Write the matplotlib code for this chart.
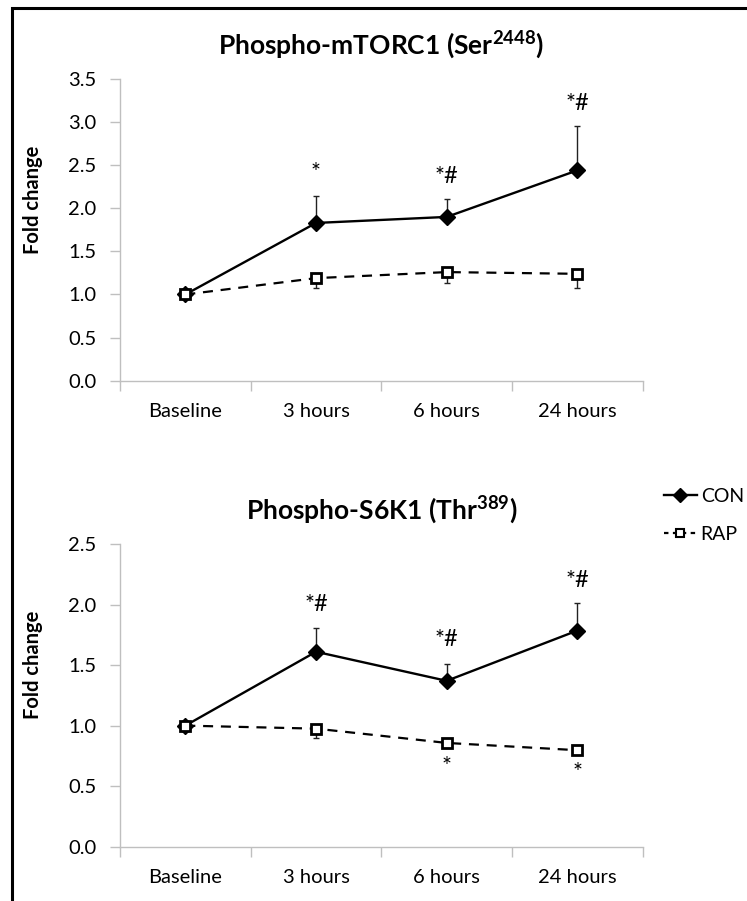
import numpy as np
import matplotlib
matplotlib.use("Agg")
import matplotlib.pyplot as plt
from matplotlib.lines import Line2D
from matplotlib.patches import Rectangle

plt.rcParams['font.family'] = ['Lato', 'DejaVu Sans']
plt.rcParams['mathtext.default'] = 'regular'

categories = ["Baseline", "3 hours", "6 hours", "24 hours"]

# panel 1: phospho-mTORC1
mtor_con = [1.0, 1.83, 1.90, 2.44]
mtor_con_err = [0.0, 0.31, 0.21, 0.51]
mtor_rap = [1.0, 1.19, 1.26, 1.24]
mtor_rap_err = [0.0, 0.11, 0.13, 0.16]
mtor_con_marks = ["", "*", "*#", "*#"]
mtor_con_mark_y = [0, 2.42, 2.37, 3.22]
mtor_rap_marks = ["", "", "", ""]
mtor_rap_mark_y = [0, 0, 0, 0]

# panel 2: phospho-S6K1
s6k_con = [1.0, 1.61, 1.37, 1.785]
s6k_con_err = [0.0, 0.20, 0.14, 0.225]
s6k_rap = [1.0, 0.975, 0.857, 0.797]
s6k_rap_err = [0.0, 0.075, 0.03, 0.03]
s6k_con_marks = ["", "*#", "*#", "*#"]
s6k_con_mark_y = [0, 2.00, 1.71, 2.20]
s6k_rap_marks = ["", "", "*", "*"]
s6k_rap_mark_y = [0, 0, 0.66, 0.61]

panels = [
    dict(title="Phospho-mTORC1 (Ser$^{2448}$)", con=mtor_con, con_err=mtor_con_err,
         rap=mtor_rap, rap_err=mtor_rap_err, ymax=3.5,
         con_marks=mtor_con_marks, con_mark_y=mtor_con_mark_y,
         rap_marks=mtor_rap_marks, rap_mark_y=mtor_rap_mark_y),
    dict(title="Phospho-S6K1 (Thr$^{389}$)", con=s6k_con, con_err=s6k_con_err,
         rap=s6k_rap, rap_err=s6k_rap_err, ymax=2.5,
         con_marks=s6k_con_marks, con_mark_y=s6k_con_mark_y,
         rap_marks=s6k_rap_marks, rap_mark_y=s6k_rap_mark_y),
]

W, H = 747, 901
fig = plt.figure(figsize=(W / 100, H / 100), dpi=100)
axes_px = [(120, 79, 642.7, 380.7), (120, 544, 642.7, 846.7)]
grey = "#bfbfbf"

for p, (x0, y0, x1, y1) in zip(panels, axes_px):
    ax = fig.add_axes([x0 / W, 1 - y1 / H, (x1 - x0) / W, (y1 - y0) / H])
    xs = np.arange(len(categories))
    zeros = np.zeros(len(xs))
    ax.errorbar(xs, p["con"], yerr=[zeros, p["con_err"]], fmt="none",
                ecolor="#222222", elinewidth=1, capsize=2.5, capthick=1, zorder=2)
    ax.errorbar(xs, p["rap"], yerr=[p["rap_err"], zeros], fmt="none",
                ecolor="#222222", elinewidth=1, capsize=2.5, capthick=1, zorder=2)
    ax.plot(xs, p["con"], color="black", lw=1.7, marker="D", ms=8.5,
            mfc="black", mec="black", zorder=3)
    ax.plot(xs, p["rap"], color="black", lw=1.6, ls=(0, (4.5, 3.5)), marker="s", ms=7.5,
            mfc="white", mec="black", mew=2, zorder=4)
    for x, m, y in zip(xs, p["con_marks"], p["con_mark_y"]):
        if m:
            ax.text(x, y, m, ha="center", va="center", fontsize=17)
    for x, m, y in zip(xs, p["rap_marks"], p["rap_mark_y"]):
        if m:
            ax.text(x, y, m, ha="center", va="center", fontsize=17)

    ax.set_xlim(-0.5, 3.5)
    ax.set_ylim(0, p["ymax"])
    ax.set_yticks(np.arange(0, p["ymax"] + 0.01, 0.5))
    ax.set_yticklabels([f"{v:.1f}" for v in np.arange(0, p["ymax"] + 0.01, 0.5)])
    ax.set_xticks(np.arange(-0.5, 3.6, 1.0))
    ax.set_xticklabels([])
    ax.set_xticks(xs, minor=True)
    ax.set_xticklabels(categories, minor=True)
    ax.tick_params(axis="x", which="major", length=7, width=1, color=grey, direction="out")
    ax.tick_params(axis="x", which="minor", length=0, pad=16, labelsize=14.5)
    ax.tick_params(axis="y", length=7, width=1, color=grey, labelsize=14.5, pad=10)
    for s in ["top", "right"]:
        ax.spines[s].set_visible(False)
    for s in ["left", "bottom"]:
        ax.spines[s].set_color(grey)
        ax.spines[s].set_linewidth(1)
    ax.set_ylabel("Fold change", fontsize=14.5, fontweight="bold")
    ax.yaxis.set_label_coords(-0.148, 0.6)
    ax.set_title(p["title"], fontsize=19, fontweight="bold", pad=18)

handles = [
    Line2D([], [], color="black", lw=1.7, marker="D", ms=7, mfc="black"),
    Line2D([], [], color="black", lw=1.6, ls=(0, (2, 2)), marker="s", ms=6,
           mfc="white", mew=1.5),
]
fig.legend(handles, ["CON", "RAP"], loc="upper left", bbox_to_anchor=(656 / W, 1 - 480 / H),
           frameon=False, fontsize=14, handlelength=1.7, handletextpad=0.2,
           labelspacing=1.1, borderaxespad=0)

fig.patches.append(Rectangle((12 / W, -0.1), 1.2, 1 - 7.5 / H + 0.1,
                             transform=fig.transFigure, fill=False,
                             edgecolor="black", lw=2.2))

fig.savefig("out.png", dpi=100)
